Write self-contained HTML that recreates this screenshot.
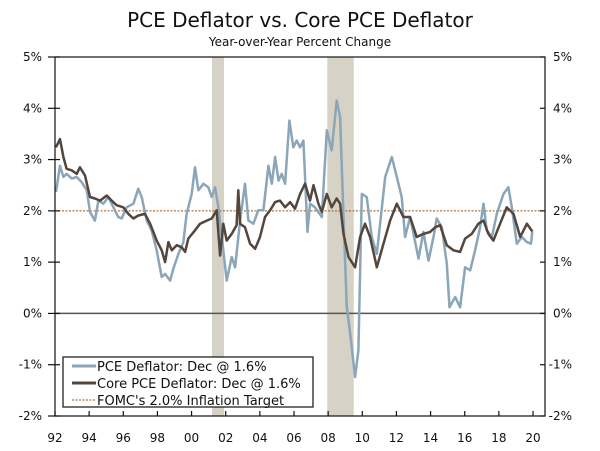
<!DOCTYPE html>
<html><head><meta charset="utf-8"><style>
body{margin:0;background:#fff}
svg{display:block;font-family:"DejaVu Sans","Liberation Sans",sans-serif}
</style></head><body>
<svg id="chart" width="600" height="451" viewBox="0 0 600 451">
<text x="300" y="27" text-anchor="middle" font-size="20" fill="#111">PCE Deflator vs. Core PCE Deflator</text>
<text x="300" y="46" text-anchor="middle" font-size="12" fill="#111">Year-over-Year Percent Change</text>
<g id="g"></g>
</svg>
<script>
const recessions=[[2001.2,2001.9],[2007.95,2009.5]];
const yTicks=[5,4,3,2,1,0,-1,-2];
const xTickYears=[1992,1994,1996,1998,2000,2002,2004,2006,2008,2010,2012,2014,2016,2018,2020];
const xTickLabels=["92","94","96","98","00","02","04","06","08","10","12","14","16","18","20"];
const target=2.0;
const pceYears=[1992.06,1992.29,1992.49,1992.68,1992.98,1993.27,1993.56,1993.86,1994.05,1994.34,1994.54,1994.83,1995.13,1995.42,1995.71,1995.91,1996.2,1996.59,1996.88,1997.08,1997.37,1997.66,1997.96,1998.25,1998.45,1998.74,1998.93,1999.23,1999.52,1999.71,2000.01,2000.2,2000.4,2000.69,2000.98,2001.18,2001.38,2001.57,2001.77,2002.06,2002.35,2002.55,2002.84,2003.13,2003.33,2003.62,2003.91,2004.21,2004.5,2004.7,2004.89,2005.09,2005.28,2005.48,2005.73,2005.96,2006.16,2006.36,2006.55,2006.79,2006.94,2007.23,2007.63,2007.92,2008.21,2008.5,2008.7,2008.9,2009.09,2009.29,2009.58,2009.77,2009.97,2010.26,2010.56,2010.85,2011.34,2011.73,2012.02,2012.31,2012.51,2012.8,2013.29,2013.58,2013.88,2014.17,2014.36,2014.66,2014.95,2015.11,2015.44,2015.73,2016.02,2016.32,2016.61,2016.9,2017.1,2017.29,2017.59,2017.88,2018.27,2018.56,2018.76,2019.05,2019.35,2019.64,2019.88,2019.96];
const pceValues=[2.37,2.88,2.66,2.72,2.63,2.66,2.56,2.4,1.98,1.81,2.2,2.14,2.27,2.07,1.88,1.85,2.07,2.14,2.43,2.27,1.81,1.62,1.23,0.71,0.77,0.64,0.87,1.16,1.39,1.94,2.33,2.85,2.4,2.53,2.46,2.27,2.46,2.07,1.49,0.64,1.1,0.9,1.81,2.53,1.81,1.75,2.01,2.01,2.88,2.53,3.05,2.59,2.72,2.53,3.76,3.24,3.37,3.24,3.37,1.59,2.14,2.07,1.88,3.57,3.18,4.15,3.83,1.88,0.12,-0.4,-1.24,-0.72,2.33,2.27,1.49,1.16,2.66,3.05,2.66,2.27,1.49,1.88,1.07,1.59,1.03,1.49,1.85,1.68,0.97,0.12,0.32,0.12,0.9,0.84,1.23,1.68,2.14,1.62,1.49,1.94,2.33,2.46,2.07,1.36,1.49,1.39,1.36,1.6];
const coreYears=[1992.06,1992.29,1992.49,1992.68,1992.98,1993.27,1993.46,1993.76,1994.05,1994.34,1994.64,1995.03,1995.32,1995.61,1996.0,1996.3,1996.59,1996.88,1997.27,1997.57,1997.96,1998.25,1998.45,1998.64,1998.84,1999.13,1999.42,1999.62,1999.81,2000.2,2000.5,2000.89,2001.18,2001.47,2001.67,2001.86,2002.06,2002.35,2002.64,2002.74,2002.84,2003.13,2003.43,2003.72,2004.01,2004.3,2004.6,2004.89,2005.18,2005.48,2005.77,2006.06,2006.36,2006.65,2006.94,2007.14,2007.43,2007.63,2007.92,2008.21,2008.5,2008.7,2008.9,2009.19,2009.58,2009.87,2010.16,2010.46,2010.85,2011.24,2011.63,2012.02,2012.41,2012.8,2013.19,2013.58,2013.97,2014.27,2014.56,2014.95,2015.34,2015.73,2016.02,2016.41,2016.8,2017.1,2017.39,2017.68,2018.07,2018.46,2018.86,2019.25,2019.64,2019.96];
const coreValues=[3.24,3.4,3.05,2.82,2.79,2.72,2.85,2.69,2.27,2.24,2.2,2.3,2.2,2.11,2.07,1.94,1.85,1.91,1.94,1.75,1.42,1.23,1.0,1.39,1.23,1.33,1.29,1.2,1.46,1.62,1.75,1.81,1.85,2.01,1.13,1.75,1.42,1.55,1.72,2.4,1.75,1.68,1.36,1.26,1.49,1.88,2.01,2.17,2.2,2.07,2.17,2.04,2.33,2.53,2.2,2.5,2.14,1.98,2.33,2.07,2.24,2.14,1.55,1.1,0.9,1.49,1.75,1.49,0.9,1.36,1.81,2.14,1.88,1.88,1.49,1.55,1.59,1.68,1.72,1.33,1.23,1.2,1.46,1.55,1.75,1.81,1.55,1.42,1.75,2.07,1.94,1.49,1.75,1.6];

const L=55,R=545,T=57,B=416;
const X=y=>L+(y-1992)*(533-L)/28;
const Y=v=>T+(5-v)*(B-T)/7;
const NS="http://www.w3.org/2000/svg";
const g=document.getElementById('g');
function mk(tag,attrs,parent){const e=document.createElementNS(NS,tag);for(const k in attrs)e.setAttribute(k,attrs[k]);(parent||g).appendChild(e);return e;}

recessions.forEach(r=>{
 const e=mk('rect',{x:X(r[0]),y:T,width:X(r[1])-X(r[0]),height:B-T,fill:'#d6d2c6'});
 
 
});
const tl=mk('line',{x1:L,x2:R,y1:Y(target),y2:Y(target),stroke:'#a0520f','stroke-width':1,'stroke-dasharray':'2,1.5'});


const zl=mk('line',{x1:L,x2:R,y1:Y(0),y2:Y(0),stroke:'#555','stroke-width':1.5});



function line(xs,vs,color,name,w){
 const d=xs.map((x,i)=>(i?'L':'M')+X(x).toFixed(1)+','+Y(vs[i]).toFixed(1)).join('');
 const p=mk('path',{d:d,fill:'none',stroke:color,'stroke-width':w,'stroke-linejoin':'round'});
 
 
}
line(pceYears,pceValues,'#8aa6b8','pce-deflator-line',2.5);
line(coreYears,coreValues,'#54463c','core-pce-deflator-line',2.5);

const fr=mk('rect',{x:L,y:T,width:R-L,height:B-T,fill:'none',stroke:'#111','stroke-width':1.2});



yTicks.forEach(v=>{
 mk('line',{x1:L-7,x2:L+5,y1:Y(v),y2:Y(v),stroke:'#111','stroke-width':1.2});
 mk('line',{x1:R-5,x2:R,y1:Y(v),y2:Y(v),stroke:'#111','stroke-width':1.2});
 const a=mk('text',{x:L-13,y:Y(v)+4,'text-anchor':'end','font-size':12,fill:'#111'});
 a.textContent=v+'%';
 
 
 const b=mk('text',{x:R+27,y:Y(v)+4,'text-anchor':'end','font-size':12,fill:'#111'});
 b.textContent=v+'%';
 
 
});
xTickYears.forEach((yr,i)=>{
 mk('line',{x1:X(yr),x2:X(yr),y1:B-5,y2:B,stroke:'#111','stroke-width':1.2});
 const t=mk('text',{x:X(yr),y:442,'text-anchor':'middle','font-size':12,fill:'#111'});
 t.textContent=xTickLabels[i];
 
 
});

const lg=mk('g',{});


mk('rect',{x:63,y:357,width:250,height:50,fill:'#fff',stroke:'#111','stroke-width':1.2},lg);
const entries=[['PCE Deflator: Dec @ 1.6%','#8aa6b8',3,null],['Core PCE Deflator: Dec @ 1.6%','#54463c',3,null],["FOMC's 2.0% Inflation Target",'#a0520f',1,'2,1.5']];
entries.forEach((en,i)=>{
 const yy=366+i*17;
 const ln=mk('line',{x1:72,x2:96,y1:yy,y2:yy,stroke:en[1],'stroke-width':en[2]},lg);
 if(en[3])ln.setAttribute('stroke-dasharray',en[3]);
 const t=mk('text',{x:97,y:yy+5,'font-size':13,fill:'#111'},lg);
 t.textContent=en[0];
 
 
});
</script>
</body></html>
